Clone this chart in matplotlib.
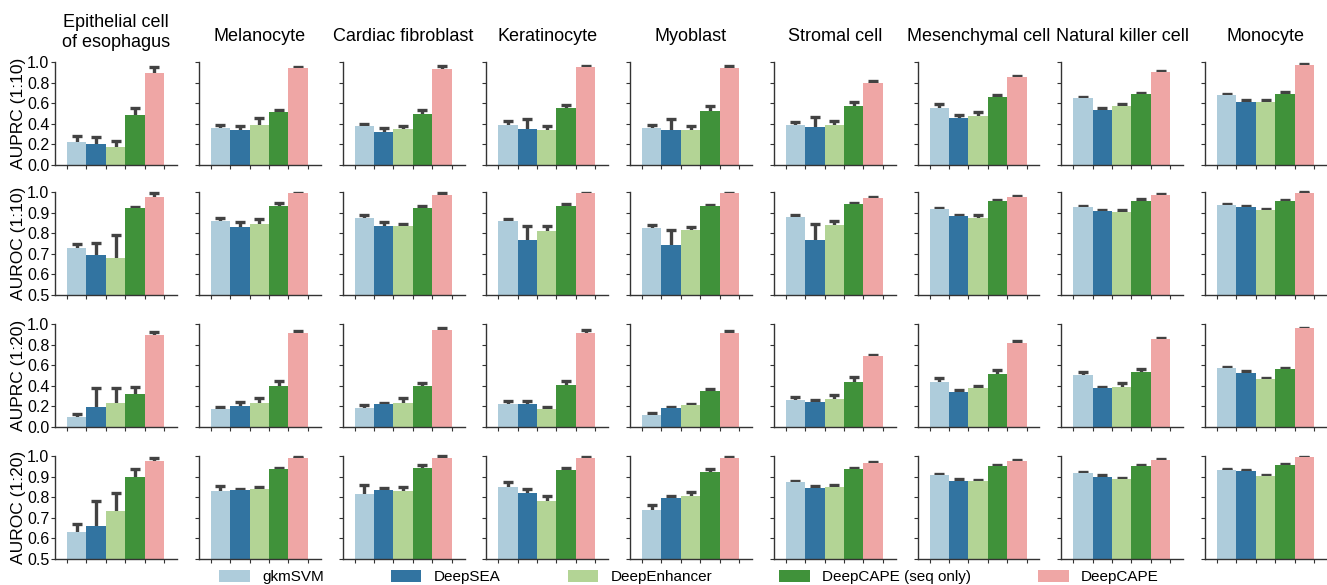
import matplotlib
matplotlib.use("Agg")
import matplotlib.pyplot as plt
from matplotlib.patches import Patch
import seaborn as sns

plt.rcParams['font.family'] = ['Liberation Sans', 'DejaVu Sans']

cells = ["Epithelial cell\nof esophagus", "Melanocyte", "Cardiac fibroblast",
         "Keratinocyte", "Myoblast", "Stromal cell", "Mesenchymal cell",
         "Natural killer cell", "Monocyte"]
methods = ["gkmSVM", "DeepSEA", "DeepEnhancer", "DeepCAPE (seq only)", "DeepCAPE"]
row_labels = ["AUPRC (1:10)", "AUROC (1:10)", "AUPRC (1:20)", "AUROC (1:20)"]

# mean values, one list per cell type (methods in order above)
auprc10 = [[0.226, 0.206, 0.170, 0.487, 0.897],
           [0.355, 0.339, 0.387, 0.510, 0.945],
           [0.374, 0.316, 0.352, 0.494, 0.935],
           [0.384, 0.352, 0.335, 0.558, 0.948],
           [0.355, 0.335, 0.335, 0.526, 0.945],
           [0.387, 0.365, 0.387, 0.568, 0.800],
           [0.555, 0.461, 0.471, 0.665, 0.852],
           [0.648, 0.535, 0.571, 0.690, 0.903],
           [0.677, 0.616, 0.610, 0.690, 0.971]]
auprc10_err = [[0.054, 0.064, 0.060, 0.063, 0.058],
               [0.032, 0.041, 0.073, 0.020, 0.010],
               [0.026, 0.039, 0.022, 0.036, 0.023],
               [0.046, 0.098, 0.042, 0.022, 0.010],
               [0.029, 0.115, 0.039, 0.045, 0.013],
               [0.029, 0.100, 0.039, 0.048, 0.016],
               [0.035, 0.023, 0.042, 0.019, 0.016],
               [0.017, 0.017, 0.019, 0.013, 0.013],
               [0.010, 0.016, 0.019, 0.016, 0.006]]

auroc10 = [[0.727, 0.695, 0.682, 0.920, 0.977],
           [0.857, 0.830, 0.846, 0.930, 0.994],
           [0.872, 0.836, 0.836, 0.924, 0.985],
           [0.857, 0.765, 0.813, 0.933, 0.994],
           [0.823, 0.745, 0.817, 0.930, 0.994],
           [0.877, 0.768, 0.838, 0.940, 0.971],
           [0.916, 0.883, 0.873, 0.955, 0.974],
           [0.927, 0.906, 0.904, 0.958, 0.985],
           [0.935, 0.925, 0.914, 0.958, 0.997]]
auroc10_err = [[0.021, 0.057, 0.110, 0.009, 0.018],
               [0.018, 0.026, 0.024, 0.016, 0.003],
               [0.016, 0.016, 0.011, 0.009, 0.009],
               [0.011, 0.071, 0.023, 0.010, 0.002],
               [0.018, 0.070, 0.011, 0.007, 0.003],
               [0.013, 0.078, 0.021, 0.008, 0.005],
               [0.006, 0.007, 0.013, 0.006, 0.005],
               [0.005, 0.006, 0.007, 0.006, 0.007],
               [0.005, 0.005, 0.005, 0.005, 0.002]]

auprc20 = [[0.100, 0.190, 0.233, 0.317, 0.890],
           [0.178, 0.207, 0.230, 0.401, 0.913],
           [0.181, 0.223, 0.233, 0.398, 0.939],
           [0.223, 0.223, 0.171, 0.408, 0.916],
           [0.120, 0.181, 0.210, 0.346, 0.909],
           [0.265, 0.240, 0.275, 0.440, 0.686],
           [0.437, 0.340, 0.382, 0.518, 0.812],
           [0.505, 0.379, 0.392, 0.534, 0.851],
           [0.570, 0.521, 0.469, 0.563, 0.958]]
auprc20_err = [[0.030, 0.190, 0.147, 0.068, 0.035],
               [0.016, 0.033, 0.048, 0.046, 0.016],
               [0.036, 0.010, 0.045, 0.026, 0.021],
               [0.033, 0.033, 0.019, 0.042, 0.026],
               [0.019, 0.016, 0.013, 0.020, 0.026],
               [0.026, 0.019, 0.035, 0.045, 0.013],
               [0.039, 0.016, 0.013, 0.035, 0.026],
               [0.026, 0.009, 0.032, 0.029, 0.013],
               [0.009, 0.023, 0.010, 0.010, 0.006]]

auroc20 = [[0.633, 0.662, 0.735, 0.896, 0.977],
           [0.832, 0.833, 0.838, 0.935, 0.992],
           [0.814, 0.833, 0.828, 0.940, 0.989],
           [0.850, 0.822, 0.780, 0.932, 0.989],
           [0.738, 0.796, 0.807, 0.922, 0.989],
           [0.872, 0.846, 0.850, 0.935, 0.966],
           [0.908, 0.877, 0.879, 0.951, 0.974],
           [0.919, 0.900, 0.887, 0.951, 0.981],
           [0.934, 0.929, 0.901, 0.956, 0.994]]
auroc20_err = [[0.035, 0.120, 0.087, 0.041, 0.012],
               [0.022, 0.008, 0.012, 0.008, 0.002],
               [0.044, 0.010, 0.020, 0.015, 0.009],
               [0.024, 0.016, 0.027, 0.008, 0.005],
               [0.023, 0.011, 0.020, 0.013, 0.005],
               [0.008, 0.007, 0.011, 0.005, 0.005],
               [0.006, 0.011, 0.003, 0.007, 0.005],
               [0.005, 0.006, 0.008, 0.004, 0.004],
               [0.003, 0.003, 0.007, 0.005, 0.001]]

rows = [(auprc10, auprc10_err, (0.0, 1.0), [0, 0.2, 0.4, 0.6, 0.8, 1.0]),
        (auroc10, auroc10_err, (0.5, 1.0), [0.5, 0.6, 0.7, 0.8, 0.9, 1.0]),
        (auprc20, auprc20_err, (0.0, 1.0), [0, 0.2, 0.4, 0.6, 0.8, 1.0]),
        (auroc20, auroc20_err, (0.5, 1.0), [0.5, 0.6, 0.7, 0.8, 0.9, 1.0])]

pal = sns.color_palette("Paired")
colors = [sns.desaturate(pal[i], 0.75) for i in range(5)]

W, H = 1327, 585
fig = plt.figure(figsize=(W / 100, H / 100), dpi=100)

row_tops = [62, 192, 324, 456]
ax_h = 103
ax_w = 122
spine_c = "#333333"
err_c = "#424242"

for r, (vals, errs, ylim, yt) in enumerate(rows):
    for c in range(9):
        left = 55 + c * 143.75
        ax = fig.add_axes([left / W, 1 - (row_tops[r] + ax_h) / H, ax_w / W, ax_h / H])
        xs = list(range(5))
        # error bars sit behind the bars, so only the upper half shows
        eb = ax.errorbar([x + 0.5 for x in xs], vals[c], yerr=errs[c],
                         fmt="none", ecolor=err_c, elinewidth=2.4, capsize=3.3,
                         capthick=2.4, zorder=1)
        eb.lines[1][1].set_clip_on(False)  # upper caps may poke above 1.0
        ax.bar(xs, vals[c], width=1.0, align="edge", color=colors, zorder=2)
        ax.set_xlim(-0.62, 5.67)
        ax.set_ylim(*ylim)
        ax.set_xticks(range(6))
        ax.set_xticklabels([])
        ax.set_yticks(yt)
        for s in ["top", "right"]:
            ax.spines[s].set_visible(False)
        for s in ["left", "bottom"]:
            ax.spines[s].set_color(spine_c)
            ax.spines[s].set_linewidth(1.0)
            ax.spines[s].set_zorder(4)
        ax.tick_params(length=3, width=0.8, color=spine_c, labelsize=11.5, pad=1)
        if c == 0:
            ax.set_yticklabels(["%.1f" % v for v in yt])
            ax.set_ylabel(row_labels[r], fontsize=12.5, labelpad=1)
        else:
            ax.set_yticklabels([])
        if r == 0:
            ax.set_title(cells[c], fontsize=13, pad=15 if c else 11)

handles = [Patch(facecolor=colors[i], label=methods[i]) for i in range(5)]
fig.legend(handles=handles, loc="center", bbox_to_anchor=(689 / W, 1 - 577 / H),
           ncol=5, frameon=False, fontsize=11, handlelength=2.0,
           handleheight=0.8, handletextpad=0.8, columnspacing=4.4,
           borderpad=0)

fig.savefig("out.png", dpi=100)
